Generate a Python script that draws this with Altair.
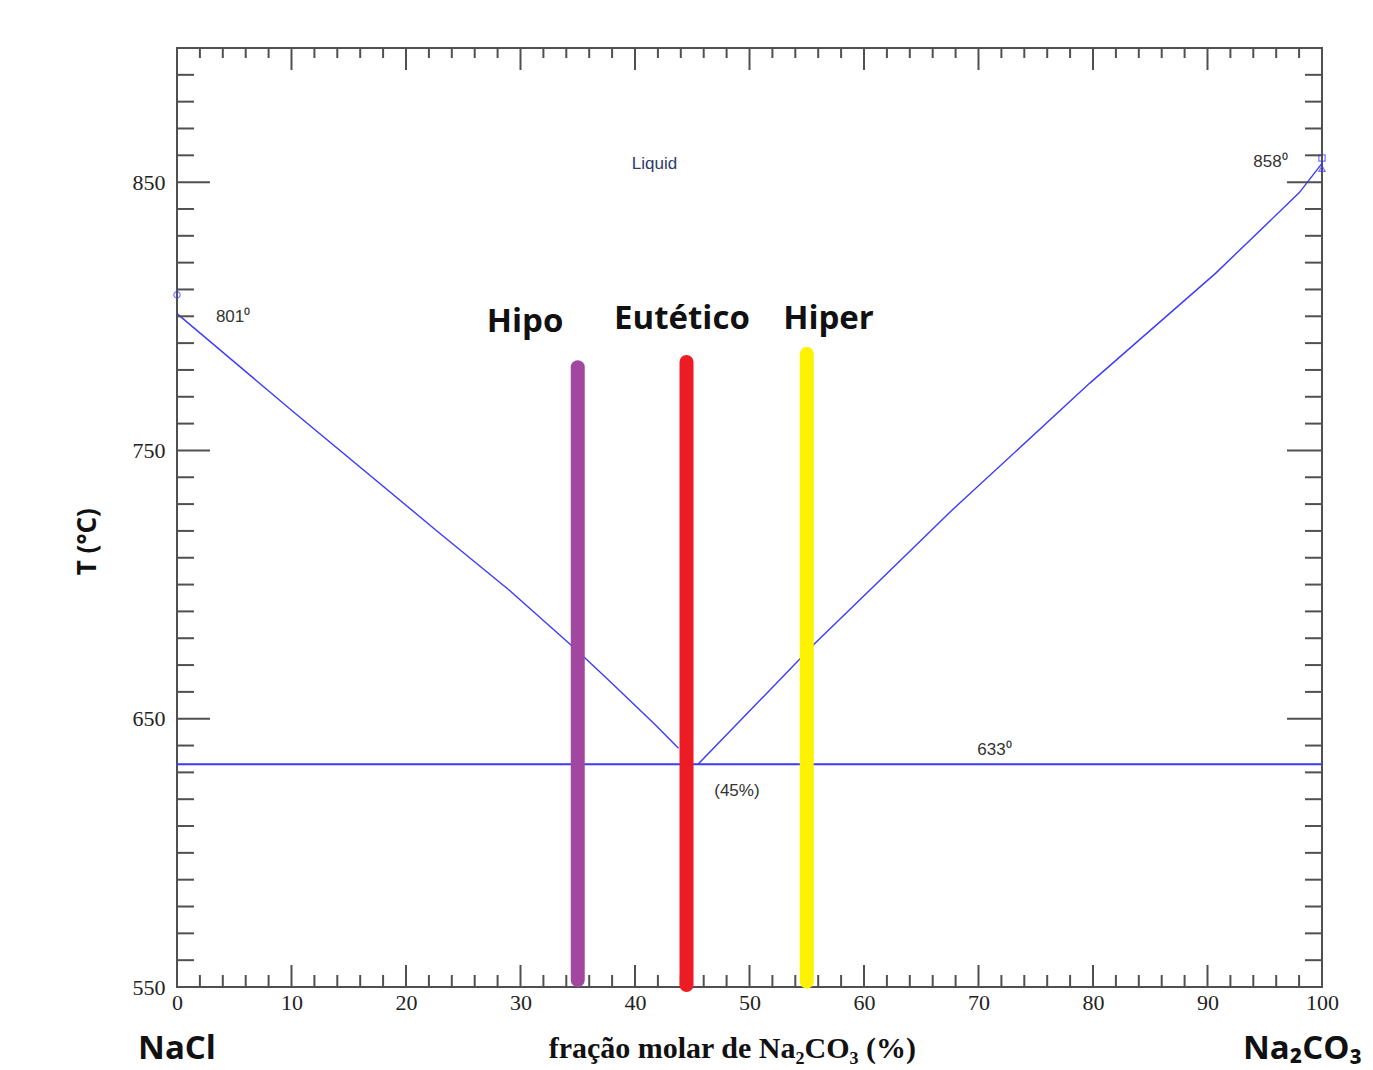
import altair as alt
import pandas as pd

# ---------------- data ----------------
left_x = [0, 10, 22.7, 29, 34.8, 37.8, 41.7, 43.8]
left_T = [801, 765, 720, 698, 676, 664, 648, 639]
right_x = [45.5, 55.7, 62.7, 67.5, 79.7, 90.7, 98, 100]
right_T = [633, 678, 707, 727, 775, 816, 846, 857]
eut_x = [0, 100]
eut_T = [633, 633]

bar_names = ["Hipo", "Eutético", "Hiper"]
bar_x = [35, 44.5, 55]
bar_bottom = [552.6, 550.7, 552]
bar_top = [781, 783, 786]
bar_colors = ["#a2479f", "#ed1c24", "#fff200"]
bar_label_x = [30.4, 44.1, 56.9]
bar_label_T = [798, 799, 799]

ann_text = ["Liquid", "801⁰", "858⁰", "633⁰", "(45%)"]
ann_x = [41.7, 4.9, 95.5, 71.4, 48.9]
ann_T = [856.7, 799.6, 857.5, 638.4, 623]

x_labels = list(range(0, 101, 10))
y_labels = [550, 650, 750, 850]
x_minor = [v for v in range(2, 100, 2) if v % 10 != 0]
x_major = list(range(10, 100, 10))
y_minor = [v for v in range(560, 900, 10) if v not in (650, 750, 850)]
y_major = [650, 750, 850]

W, H = 1145, 939
xs = alt.Scale(domain=[0, 100], nice=False, zero=False)
ys = alt.Scale(domain=[550, 900], nice=False, zero=False)
AX = "#505050"
LINE = "#3a3aff"

AXIS_X = alt.Axis(values=x_labels, ticks=False, domain=False, grid=False,
                  labelFont="Liberation Serif", labelFontSize=22, labelColor="#222",
                  labelPadding=5, labelFlush=False, title=None)
AXIS_Y = alt.Axis(values=y_labels, ticks=False, domain=False, grid=False,
                  labelFont="Liberation Serif", labelFontSize=22, labelColor="#222",
                  labelPadding=12, labelFlush=False, title=None)


def X(field):
    return alt.X(field, scale=xs, axis=AXIS_X)


def Y(field):
    return alt.Y(field, scale=ys, axis=AXIS_Y)


# ---------------- layers ----------------
left_df = pd.DataFrame({"x": left_x, "T": left_T})
right_df = pd.DataFrame({"x": right_x, "T": right_T})
eut_df = pd.DataFrame({"x": eut_x, "T": eut_T})

left_line = alt.Chart(left_df).mark_line(color=LINE, strokeWidth=1.4).encode(x=X("x:Q"), y=Y("T:Q"))
right_line = alt.Chart(right_df).mark_line(color=LINE, strokeWidth=1.4).encode(x=X("x:Q"), y=Y("T:Q"))
eut_line = alt.Chart(eut_df).mark_line(color=LINE, strokeWidth=2).encode(x=X("x:Q"), y=Y("T:Q"))

marker_df = pd.DataFrame({"x": [0, 100, 100], "T": [808, 859, 855],
                          "shape": ["circle", "square", "triangle-up"]})
markers = alt.Chart(marker_df).mark_point(filled=False, color=LINE, size=40, strokeWidth=1.2).encode(
    x=X("x:Q"), y=Y("T:Q"),
    shape=alt.Shape("shape:N", scale=None, legend=None),
)

bars_df = pd.DataFrame({"name": bar_names, "x": bar_x, "b": bar_bottom, "t": bar_top,
                        "c": bar_colors})
bars = alt.Chart(bars_df).mark_rule(strokeWidth=14, strokeCap="round").encode(
    x=X("x:Q"), y=Y("b:Q"), y2="t:Q",
    color=alt.Color("c:N", scale=None, legend=None),
)

bar_lab_df = pd.DataFrame({"name": bar_names, "x": bar_label_x, "T": bar_label_T})
bar_labels = alt.Chart(bar_lab_df).mark_text(font="Open Sans", fontWeight="bold", fontSize=33,
                                             color="#111", baseline="middle").encode(
    x=X("x:Q"), y=Y("T:Q"), text="name:N",
)

ann_df = pd.DataFrame({"t": ann_text, "x": ann_x, "T": ann_T})
ann = alt.Chart(ann_df).mark_text(font="Liberation Sans", fontSize=17,
                                  baseline="middle").encode(
    x=X("x:Q"), y=Y("T:Q"), text="t:N",
    color=alt.condition(alt.datum.t == "Liquid", alt.value("#2d3b6e"), alt.value("#333")),
)

# axis titles / component names (placed in data coordinates outside the plot area)
title_df = pd.DataFrame({"t": ["fração molar de Na₂CO₃ (%)"], "x": [48.5], "T": [527]})
x_title = alt.Chart(title_df).mark_text(font="Liberation Serif", fontWeight="bold", fontSize=30,
                                        color="#111", baseline="middle").encode(
    x=X("x:Q"), y=Y("T:Q"), text="t:N")

ytitle_df = pd.DataFrame({"t": ["T (°C)"], "x": [-7.8], "T": [716]})
y_title = alt.Chart(ytitle_df).mark_text(font="Open Sans", fontWeight="bold", fontSize=26,
                                         color="#111", angle=270, baseline="middle").encode(
    x=X("x:Q"), y=Y("T:Q"), text="t:N")

comp_df = pd.DataFrame({"t": ["NaCl", "Na₂CO₃"], "x": [0, 98.3], "T": [527, 527]})
comp = alt.Chart(comp_df).mark_text(font="Open Sans", fontWeight="bold", fontSize=33,
                                    color="#111", baseline="middle").encode(
    x=X("x:Q"), y=Y("T:Q"), text="t:N")


# inward ticks on all four sides
def xticks(vals, y0, y1):
    return alt.Chart(pd.DataFrame({"v": vals})).mark_rule(color=AX, strokeWidth=2).encode(
        x=X("v:Q"), y=alt.value(y0), y2=alt.value(y1))


def yticks(vals, x0, x1):
    return alt.Chart(pd.DataFrame({"v": vals})).mark_rule(color=AX, strokeWidth=2).encode(
        y=Y("v:Q"), x=alt.value(x0), x2=alt.value(x1))


ticks = [
    xticks(x_minor, H, H - 12), xticks(x_major, H, H - 22),
    xticks(x_minor, 0, 10), xticks(x_major, 0, 22),
    yticks(y_minor, 0, 17), yticks(y_major, 0, 33),
    yticks(y_minor, W, W - 17), yticks(y_major, W, W - 35),
]

chart = alt.layer(
    left_line, right_line, eut_line, markers, *ticks, bars, bar_labels, ann,
    x_title, y_title, comp,
).properties(
    width=W, height=H,
    autosize=alt.AutoSizeParams(type="none"),
    padding={"left": 169, "top": 40, "right": 43, "bottom": 82},
    background="white",
).configure_view(stroke=AX, strokeWidth=2)

chart.save("out.html", embed_options={"renderer": "svg", "actions": False})
